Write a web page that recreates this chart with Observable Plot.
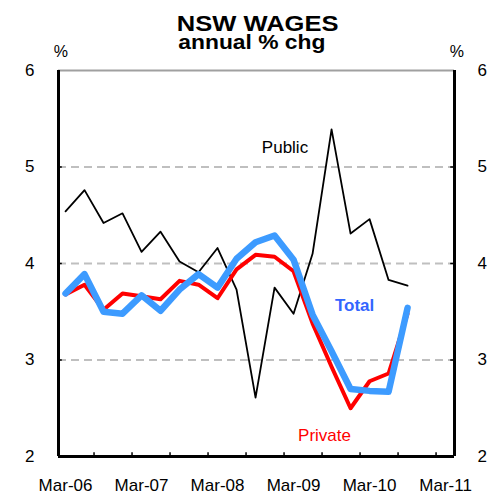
<!DOCTYPE html>
<html><head><meta charset="utf-8">
<script src="https://cdn.jsdelivr.net/npm/d3@7"></script>
<script src="https://cdn.jsdelivr.net/npm/@observablehq/plot@0.6"></script>
<style>
body{margin:0;background:#fff;}
#wrap{position:relative;width:498px;height:495px;font-family:"Liberation Sans",Arial,sans-serif;overflow:hidden;}
#chart{position:absolute;left:0;top:0;}
.t{position:absolute;left:0;width:498px;text-align:center;font-weight:bold;color:#000;white-space:nowrap;}
.t span{display:inline-block;position:relative;}
</style></head><body>
<div id="wrap">
<div id="chart"></div>
<div class="t" style="top:13.6px;font-size:22px;line-height:19px;"><span style="transform:scaleX(1.16);left:9px">NSW WAGES</span></div>
<div class="t" style="top:32.8px;font-size:19.5px;line-height:18px;"><span style="transform:scaleX(1.17);left:3px">annual % chg</span></div>
</div>
<script>
const quarters = ["Mar-06","Jun-06","Sep-06","Dec-06","Mar-07","Jun-07","Sep-07","Dec-07","Mar-08","Jun-08","Sep-08","Dec-08","Mar-09","Jun-09","Sep-09","Dec-09","Mar-10","Jun-10","Sep-10"];
const publicSector  = [4.54,4.76,4.42,4.52,4.12,4.33,4.02,3.91,4.16,3.73,2.61,3.75,3.48,4.10,5.39,4.31,4.46,3.83,3.77];
const privateSector = [3.68,3.78,3.52,3.69,3.66,3.63,3.82,3.78,3.64,3.94,4.09,4.07,3.92,3.38,2.93,2.50,2.78,2.86,3.48];
const totalWages    = [3.69,3.89,3.50,3.48,3.67,3.51,3.73,3.89,3.75,4.05,4.22,4.29,4.04,3.47,3.09,2.70,2.68,2.67,3.54];
const xTickLabels = ["Mar-06","Mar-07","Mar-08","Mar-09","Mar-10","Mar-11"];
const xTickIndex = [0,4,8,12,16,20];
const minorTickIndex = [1.5,3.5,5.5,7.5,9.5,11.5,13.5,15.5,17.5,19.5];
const yTicks = [2,3,4,5,6];
const gridValues = [3,4,5];
const plainLabels = [
  {name:"Public",  i:11.55, v:5.20, color:"#000000"},
  {name:"Private", i:13.63, v:2.22, color:"#ff0000"}
];
const boldLabels = [
  {name:"Total",   i:15.21, v:3.56, color:"#3366ff"}
];
const unitLabels = [{i:-0.24, v:6.19, t:"%"},{i:20.6, v:6.19, t:"%"}];

const rows = quarters.map((q, i) => ({i, q, pub: publicSector[i], pri: privateSector[i], tot: totalWages[i]}));
const xDomain = [-0.37, 20.47];
const labelMap = new Map(xTickIndex.map((k, j) => [k, xTickLabels[j]]));

const chart = Plot.plot({
  width: 498, height: 495,
  marginLeft: 58, marginRight: 44, marginTop: 70, marginBottom: 39,
  style: {fontFamily: '"Liberation Sans", Arial, sans-serif', fontSize: "17px", color: "#000", background: "#fff"},
  x: {domain: xDomain, axis: null, label: null},
  y: {domain: [2, 6], axis: null, label: null},
  marks: [
    Plot.ruleY(gridValues, {stroke: "#bfbfbf", strokeWidth: 2, strokeDasharray: "8,5"}),
    Plot.ruleY([6], {stroke: "#a0a0a0", strokeWidth: 2}),
    Plot.line(rows, {x: "i", y: "pub", stroke: "#000", strokeWidth: 1.8}),
    Plot.line(rows, {x: "i", y: "pri", stroke: "#ff0000", strokeWidth: 4}),
    Plot.line(rows, {x: "i", y: "tot", stroke: "#3d9bff", strokeWidth: 6.5}),
    Plot.ruleX([xDomain[0]], {y1: 2, y2: 6, stroke: "#000", strokeWidth: 3}),
    Plot.ruleX([xDomain[1]], {y1: 2, y2: 6, stroke: "#000", strokeWidth: 3}),
    Plot.ruleY([2], {stroke: "#000", strokeWidth: 3}),
    Plot.ruleY(gridValues, {x1: xDomain[0], x2: xDomain[0] + 0.2, stroke: "#000", strokeWidth: 1.5}),
    Plot.ruleY(gridValues, {x1: xDomain[1] - 0.2, x2: xDomain[1], stroke: "#000", strokeWidth: 1.5}),
    Plot.ruleX(minorTickIndex, {y1: 2, y2: 2.04, stroke: "#000", strokeWidth: 1.5}),
    Plot.axisY({anchor: "left", ticks: yTicks, tickFormat: d => String(d), tickSize: 0, tickPadding: 24, fontSize: 17, label: null}),
    Plot.axisY({anchor: "right", ticks: yTicks, tickFormat: d => String(d), tickSize: 0, tickPadding: 23, fontSize: 17, label: null}),
    Plot.axisX({anchor: "bottom", ticks: xTickIndex, tickFormat: d => labelMap.get(d), tickSize: 0, tickPadding: 22, fontSize: 17, label: null}),
    Plot.text(unitLabels, {x: "i", y: "v", text: "t", fontSize: 16, textAnchor: "middle", lineAnchor: "middle", fill: "#000"}),
    Plot.text(plainLabels, {x: "i", y: "v", text: "name", fill: "color", fontSize: 17, textAnchor: "middle", lineAnchor: "middle"}),
    Plot.text(boldLabels, {x: "i", y: "v", text: "name", fill: "color", fontWeight: "bold", fontSize: 17, textAnchor: "middle", lineAnchor: "middle"})
  ]
});
document.getElementById("chart").appendChild(chart);
</script>
</body></html>
